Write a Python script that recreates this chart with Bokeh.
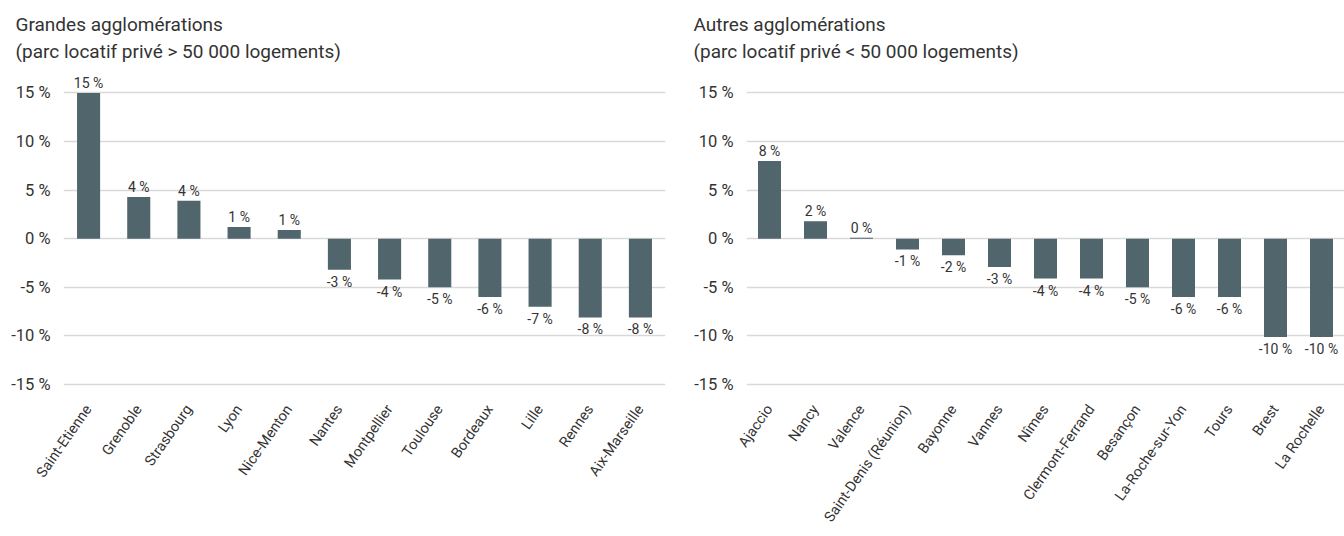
from bokeh.plotting import figure
from bokeh.models import Range1d, FactorRange, FixedTicker, Title, ColumnDataSource
from bokeh.layouts import row
from bokeh.core.properties import value
from bokeh.embed import file_html
from bokeh.resources import INLINE

# ---- data ----
big_title = ["Grandes agglomérations", "(parc locatif privé > 50 000 logements)"]
big_cities = ["Saint-Etienne", "Grenoble", "Strasbourg", "Lyon", "Nice-Menton", "Nantes",
              "Montpellier", "Toulouse", "Bordeaux", "Lille", "Rennes", "Aix-Marseille"]
big_values = [15.0, 4.3, 3.9, 1.2, 0.9, -3.2, -4.2, -5.0, -6.0, -7.0, -8.1, -8.1]

other_title = ["Autres agglomérations", "(parc locatif privé < 50 000 logements)"]
other_cities = ["Ajaccio", "Nancy", "Valence", "Saint-Denis (Réunion)", "Bayonne", "Vannes",
                "Nîmes", "Clermont-Ferrand", "Besançon", "La-Roche-sur-Yon", "Tours",
                "Brest", "La Rochelle"]
other_values = [8.0, 1.8, 0.1, -1.1, -1.7, -2.9, -4.1, -4.1, -5.0, -6.0, -6.0, -10.1, -10.1]

y_ticks = [-15, -10, -5, 0, 5, 10, 15]

BAR = "#51656c"
TXT = "#333333"
GRID = "#d9d9d9"
FONT = "Roboto"
Y0, Y1 = -15.2, 17.0


def make(cities, vals, title_lines, width, left, right, bar_w, title_dx):
    p = figure(x_range=FactorRange(*cities), y_range=Range1d(Y0, Y1),
               width=width, height=536, output_backend="svg", toolbar_location=None,
               min_border_left=left, min_border_right=right, min_border_top=72,
               min_border_bottom=150, outline_line_color=None)
    src = ColumnDataSource(dict(x=cities, top=vals))
    p.vbar(x="x", top="top", bottom=0, width=bar_w, source=src,
           fill_color=BAR, line_color=None)
    ps = ColumnDataSource(dict(x=[c for c, v in zip(cities, vals) if v >= 0],
                               y=[v for v in vals if v >= 0],
                               t=[f"{round(v)} %" for v in vals if v >= 0]))
    ns = ColumnDataSource(dict(x=[c for c, v in zip(cities, vals) if v < 0],
                               y=[v for v in vals if v < 0],
                               t=[f"{round(v)} %" for v in vals if v < 0]))
    p.text(x="x", y="y", text="t", source=ps, text_align="center",
           text_baseline="bottom", y_offset=-2, text_font=value(FONT),
           text_font_size="14px", text_color=TXT)
    p.text(x="x", y="y", text="t", source=ns, text_align="center",
           text_baseline="top", y_offset=4, text_font=value(FONT),
           text_font_size="14px", text_color=TXT)

    p.xgrid.grid_line_color = None
    p.ygrid.ticker = FixedTicker(ticks=y_ticks)
    p.ygrid.grid_line_color = GRID
    p.ygrid.grid_line_width = 1.5

    ya = p.yaxis[0]
    ya.ticker = FixedTicker(ticks=y_ticks)
    ya.major_label_overrides = {t: f"{t} %" for t in y_ticks}
    ya.axis_line_color = None
    ya.major_tick_line_color = None
    ya.minor_tick_line_color = None
    ya.major_tick_out = 0
    ya.major_tick_in = 0
    ya.major_label_standoff = 13
    ya.major_label_text_font = FONT
    ya.major_label_text_font_size = "16.5px"
    ya.major_label_text_color = TXT

    xa = p.xaxis[0]
    xa.axis_line_color = None
    xa.major_tick_line_color = None
    xa.major_tick_out = 0
    xa.major_tick_in = 0
    xa.major_label_orientation = 0.96
    xa.major_label_standoff = 20
    xa.major_label_text_font = FONT
    xa.major_label_text_font_size = "14.5px"
    xa.major_label_text_color = TXT

    # two-line title as one multi-line title
    p.add_layout(Title(text="\n".join(title_lines), align="left", offset=title_dx,
                       text_font=FONT, text_font_size="19px", text_font_style="normal",
                       text_line_height=1.2, text_color=TXT, standoff=20), "above")
    return p


p1 = make(big_cities, big_values, big_title, 672, 63, 7, 0.46, -48)
p2 = make(other_cities, other_values, other_title, 672, 74, 0, 0.5, -53)

layout = row(p1, p2)
open("out.html", "w").write(file_html(layout, INLINE))
